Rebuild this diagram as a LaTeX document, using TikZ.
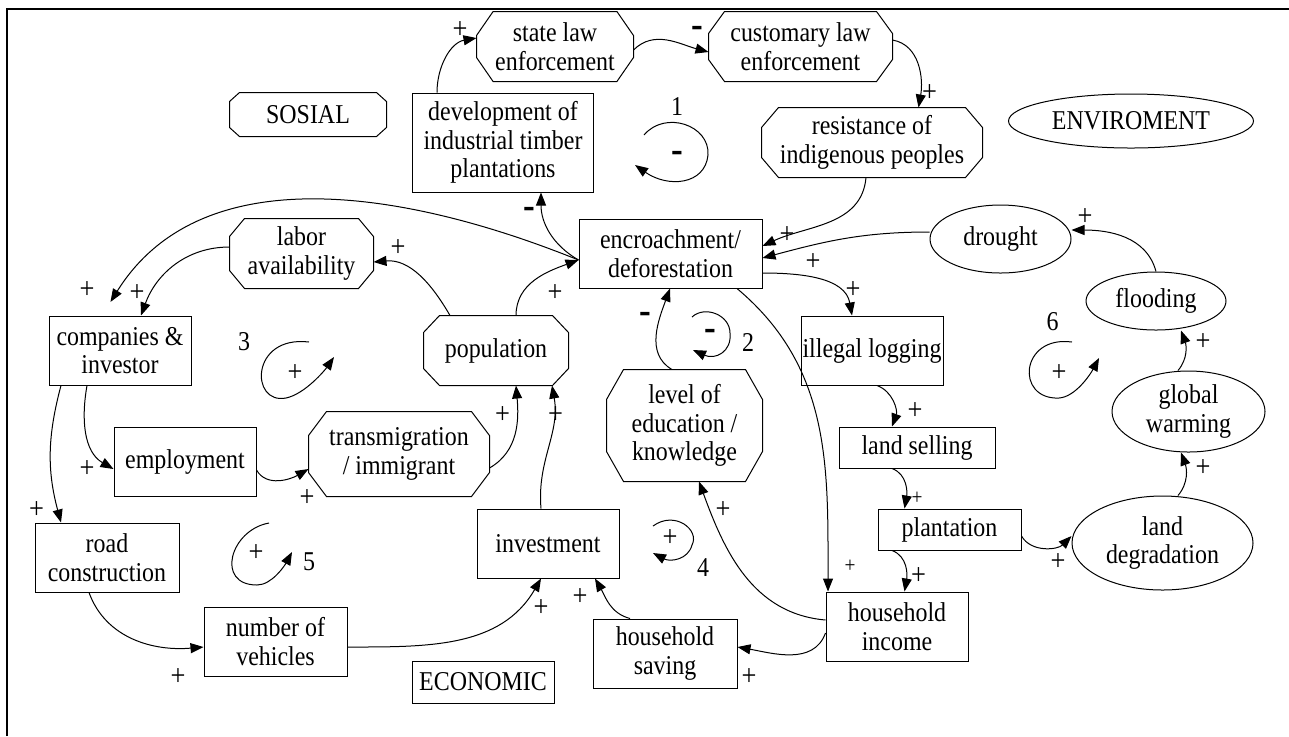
\documentclass[tikz,border=0pt]{standalone}
\usepackage{fontspec}
\setmainfont{Liberation Serif}[FakeStretch=0.88]
\usetikzlibrary{arrows.meta,shapes.geometric}

\tikzset{
  every node/.style={font=\fontsize{13.6}{14.3}\selectfont, align=center, inner sep=0pt},
  box/.style={draw, rectangle, line width=0.5pt, minimum width=71pt, minimum height=34.5pt},
  octa/.style={box, draw=none},
  oval/.style={draw, ellipse, line width=0.5pt},
  link/.style={-{Triangle[length=6.5pt,width=5pt]}, line width=0.5pt},
  sign/.style={font=\fontsize{15}{15}\selectfont},
  tiny sign/.style={font=\fontsize{11}{11}\selectfont},
  neg/.style={font=\fontsize{20}{20}\selectfont\bfseries, yshift=-1.5pt},
}
% outline with cut corners round a named node: name, cut x, cut y
\newcommand\octframe[3]{%
  \draw[line width=0.5pt] ([xshift=#2]#1.north west) -- ([xshift=-#2]#1.north east)
    -- ([yshift=-#3]#1.north east) -- ([yshift=#3]#1.south east)
    -- ([xshift=-#2]#1.south east) -- ([xshift=#2]#1.south west)
    -- ([yshift=#3]#1.south west) -- ([yshift=-#3]#1.north west) -- cycle;}

\begin{document}
\begin{tikzpicture}[x=0.5pt, y=-0.5pt]
    \useasboundingbox (0,0) rectangle (1289,736);
    % frame
    \draw[line width=1.2pt] (7,736) -- (7,9) -- (1289,9);

    % Sosial part
    \node[octa, minimum width=78pt] (stateLaw) at (555,46.5) {state law\\enforcement};
    \node[octa, minimum width=91.5pt] (customary) at (800.5,46.5) {customary law\\enforcement};
    \node[box, minimum width=90.5pt, minimum height=49.5pt] (dev) at (503,142.5) {development of\\industrial timber\\plantations};
    \node[octa, minimum width=78pt, minimum height=21.5pt] (sosial) at (308,114.5) {SOSIAL};
    \node[octa, minimum width=110pt] (resistance) at (872,142.5) {resistance of\\indigenous peoples};
    \node[octa, minimum width=71.5pt] (labor) at (301.5,253.5) {labor\\availability};
    \node[octa, minimum width=72pt] (population) at (496,350.5) {population};
    \node[octa, minimum width=90pt, minimum height=42pt] (trans) at (399,454) {transmigration\\/ immigrant};
    \node[octa, minimum width=77.5pt, minimum height=55.5pt] (education) at (684.5,425.5) {level of\\education /\\knowledge};
    \octframe{stateLaw}{8.3pt}{12pt}
    \octframe{customary}{8pt}{11pt}
    \octframe{sosial}{5pt}{4.5pt}
    \octframe{resistance}{8.5pt}{10pt}
    \octframe{labor}{7.5pt}{9pt}
    \octframe{population}{8pt}{8.5pt}
    \octframe{trans}{9pt}{12pt}
    \octframe{education}{8.5pt}{15pt}

    % centre
    \node[box, minimum width=91.5pt] (enc) at (670.5,253.5) {encroachment/\\deforestation};

    % Enviroment part
    \node[oval, minimum width=122.5pt, minimum height=27pt] (enviroment) at (1131,121) {ENVIROMENT};
    \node[oval, minimum width=70.5pt, minimum height=34pt] (drought) at (1000.5,239) {drought};
    \node[oval, minimum width=70pt, minimum height=29pt] (flooding) at (1156,301) {flooding};
    \node[oval, minimum width=76.5pt, minimum height=40.5pt] (warming) at (1188.5,411.5) {global\\warming};
    \node[oval, minimum width=90.5pt, minimum height=47pt] (landDeg) at (1162.5,543) {land\\degradation};
    \node[box] (illegal) at (872,350.5) {illegal logging};
    \node[box, minimum width=78pt, minimum height=20.5pt] (selling) at (917,447.5) {land selling};
    \node[box, minimum width=71.5pt, minimum height=20.5pt] (plantation) at (949.5,529.5) {plantation};

    % Economic part
    \node[box] (companies) at (120,350.5) {companies \&\\investor};
    \node[box] (employment) at (185,461.5) {employment};
    \node[box, minimum width=72pt] (road) at (107,557.5) {road\\construction};
    \node[box, minimum width=71.5pt] (vehicles) at (275.5,641.5) {number of\\vehicles};
    \node[box] (invest) at (548,543.5) {investment};
    \node[box, minimum width=72pt] (saving) at (665,653.5) {household\\saving};
    \node[box] (income) at (897,626.5) {household\\income};
    \node[box, minimum height=21pt] (economic) at (483,682) {ECONOMIC};

    % links
    \draw[link] (dev.north -| 437,0) to[out=90,in=190] (stateLaw.west |- 0,38);
    \draw[link] (stateLaw.east |- 0,50) to[out=45,in=165] (customary.west |- 0,52);
    \draw[link] (customary.east |- 0,40) to[out=-10,in=80] (resistance.north -| 918.5,0);
    \draw[link] (resistance.south -| 866,0) to[out=-95,in=25] (enc.east |- 0,246);
    \draw[link] (drought.west |- 0,232) to[out=180,in=15] (enc.east |- 0,258);
    \draw[link] (flooding.north) to[out=105,in=0] (drought.east |- 0,230);
    \draw[link] (warming.north -| 1178,0) to[out=50,in=-70] (flooding.south -| 1181,0);
    \draw[link] (landDeg.north -| 1178,0) to[out=50,in=-70] (warming.south -| 1181,0);
    \draw[link] (plantation.east |- 0,536) to[out=-60,in=225] (landDeg.west |- 0,536);
    \draw[link] (enc.east |- 0,273) to[out=0,in=100] (illegal.north -| 852,0);
    \draw[link] (illegal.south -| 877,0) to[out=-20,in=70] (selling.north -| 892,0);
    \draw[link] (selling.south -| 892,0) to[out=-20,in=80] (plantation.north -| 904.5,0);
    \draw[link] (plantation.south -| 892,0) to[out=-20,in=80] (income.north -| 904.5,0);
    \draw[link] (enc.south -| 737,0) to[out=-40,in=90] (income.north -| 828,0);
    \draw[link] (income.west |- 0,633) to[out=-110,in=-10] (saving.east |- 0,647);
    \draw[link] (income.west |- 0,620) to[out=175,in=-70] (education.south -| 699,0);
    \draw[link] (education.north -| 672,0) to[out=150,in=-110] (enc.south -| 670,0);
    \draw[link] (enc.west |- 0,260) to[out=150,in=-90] (dev.south -| 541,0);
    \draw[link] (population.north -| 516,0) to[out=90,in=200] (enc.west |- 0,260);
    \draw[link, shorten >=8pt] (enc.west |- 0,260) to[out=158,in=58] (companies.north -| 102,0);
    \draw[link] (population.north -| 450,0) to[out=120,in=5] (labor.east |- 0,262);
    \draw[link] (labor.west |- 0,247) to[out=180,in=70] (companies.north -| 141,0);
    \draw[link] (companies.south -| 87,0) to[out=-100,in=150] (employment.west |- 0,469);
    \draw[link] (companies.south -| 61,0) to[out=-105,in=105] (road.north -| 61,0);
    \draw[link] (employment.east |- 0,470) to[out=-60,in=210] (trans.west |- 0,469);
    \draw[link] (trans.east |- 0,468) to[out=30,in=-85] (population.south -| 516,0);
    \draw[link] (invest.north -| 541,0) to[out=95,in=-80] (population.south -| 552,0);
    \draw[link] (road.south -| 89,0) to[out=-70,in=185] (vehicles.west |- 0,647);
    \draw[link] (vehicles.east |- 0,647) to[out=0,in=-120] (invest.south -| 541,0);
    \draw[link] (saving.north -| 630,0) to[out=165,in=-60] (invest.south -| 595,0);

    % polarity signs
    \node[sign] (p1) at (460,30) {+};
    \node[sign] (p2) at (929.5,93) {+};
    \node[sign] (p3) at (787,235) {+};
    \node[sign] (p4) at (813,262) {+};
    \node[sign] (p5) at (853,290) {+};
    \node[sign] (p6) at (1085,217) {+};
    \node[sign] (p7) at (1203,342) {+};
    \node[sign] (p8) at (1203,468) {+};
    \node[sign] (p9) at (915,411) {+};
    \node[tiny sign] (p10) at (917,498) {+};
    \node[sign] (p11) at (918.5,576) {+};
    \node[tiny sign] (p12) at (850,566) {+};
    \node[sign] (p13) at (1058,562) {+};
    \node[sign] (p14) at (723,510) {+};
    \node[sign] (p15) at (749,677) {+};
    \node[sign] (p16) at (580,597) {+};
    \node[sign] (p17) at (541,608) {+};
    \node[sign] (p18) at (178,677) {+};
    \node[sign] (p19) at (36.5,510) {+};
    \node[sign] (p20) at (87,469) {+};
    \node[sign] (p21) at (307,498) {+};
    \node[sign] (p22) at (502.5,415) {+};
    \node[sign] (p23) at (555.5,415) {+};
    \node[sign] (p24) at (555,293) {+};
    \node[sign] (p25) at (398,248) {+};
    \node[sign] (p26) at (137,293) {+};
    \node[sign] (p27) at (87,290) {+};
    \node[neg] (m1) at (529,210) {-};
    \node[neg] (m2) at (697,29) {-};
    \node[neg] (m3) at (645,315) {-};

    % loops
    \draw[link] (644,135) .. controls (665,110) and (710,125) .. (708,155) .. controls (705,185) and (668,188) .. (635,165);
    \draw[link] (692,317) .. controls (705,305) and (730,315) .. (730,333) .. controls (732,352) and (715,360) .. (693,350);
    \draw[link] (309,342) .. controls (250,335) and (250,405) .. (286,398) .. controls (305,394) and (325,370) .. (334,357);
    \draw[link] (653,526) .. controls (675,510) and (700,530) .. (692,545) .. controls (688,560) and (670,562) .. (653,553);
    \draw[link] (269,523) .. controls (230,530) and (215,585) .. (257,585) .. controls (272,585) and (285,565) .. (292,552);
    \draw[link] (1072,342) .. controls (1020,335) and (1015,400) .. (1059,398) .. controls (1075,397) and (1090,375) .. (1099,358);
    \node (n1) at (677,107) {1};
    \node (n2) at (748,342) {2};
    \node (n3) at (244,342) {3};
    \node (n4) at (703,568) {4};
    \node (n5) at (309,562) {5};
    \node (n6) at (1052.5,322) {6};
    \node[neg] (m4) at (677,154) {-};
    \node[neg] (m5) at (710,332) {-};
    \node[sign] (p28) at (295,373) {+};
    \node[sign] (p29) at (256,553) {+};
    \node[sign] (p30) at (670,538) {+};
    \node[sign] (p31) at (1059,373) {+};
\end{tikzpicture}
\end{document}
